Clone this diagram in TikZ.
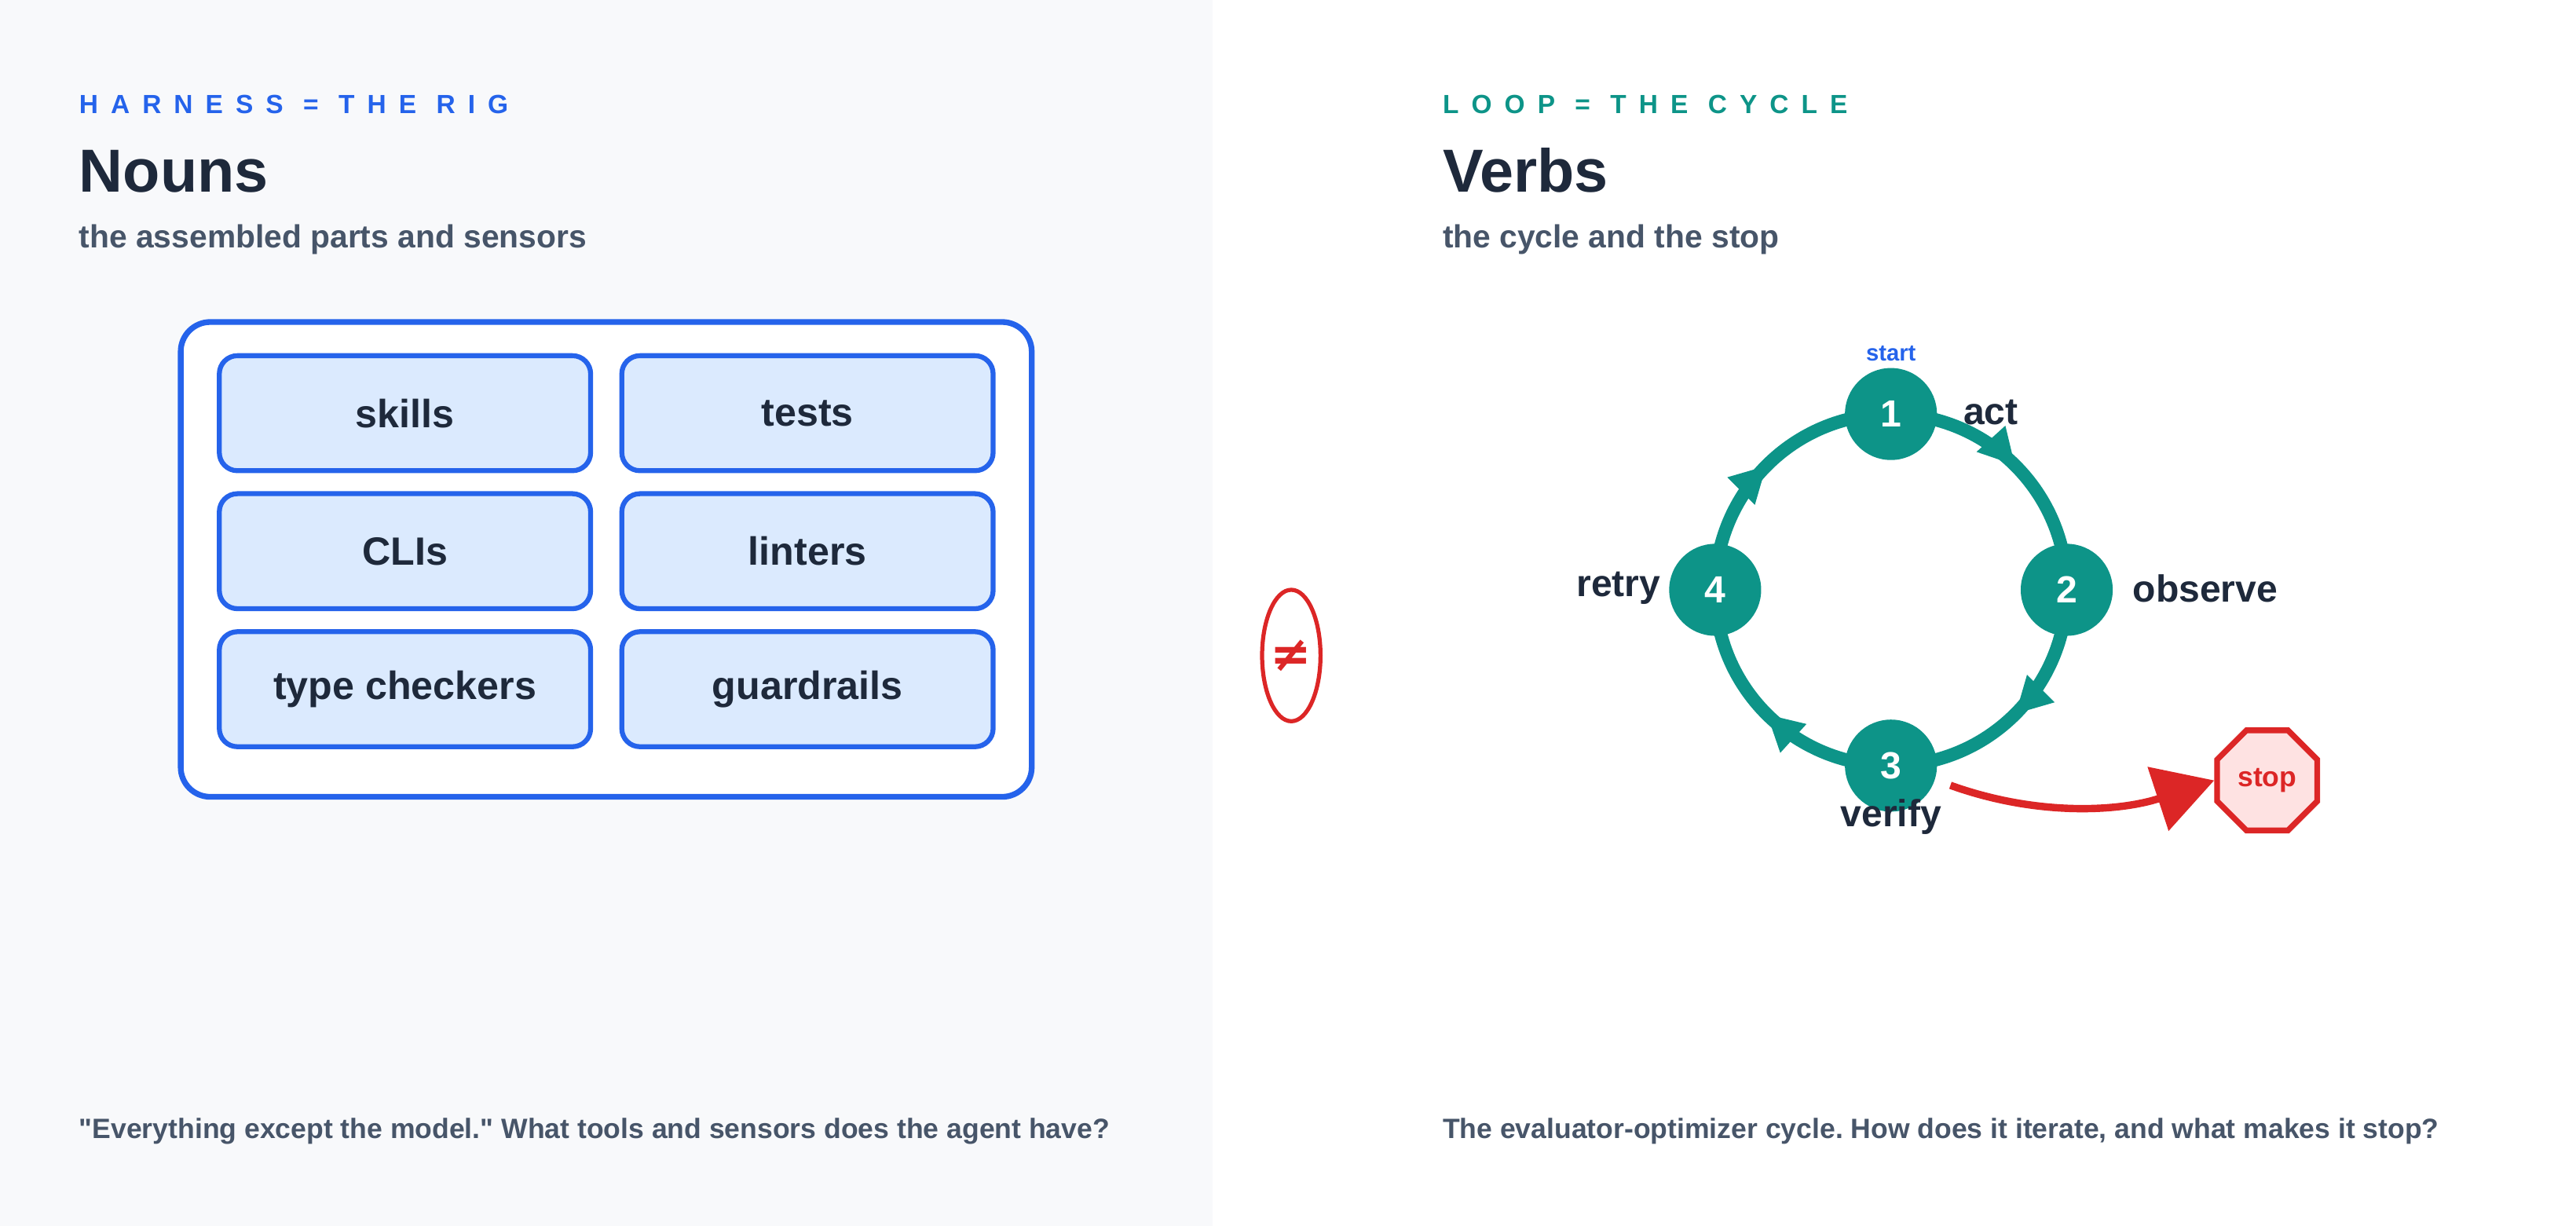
\documentclass[tikz,border=0pt]{standalone}
\usepackage{fontspec}
\setmainfont{Liberation Sans}
\newfontfamily\spaced[LetterSpace=48]{Liberation Sans}
\newfontfamily\symbols{DejaVu Sans}
\usepackage{tikz}
\usetikzlibrary{arrows.meta,shapes.geometric,decorations.markings}
\definecolor{ink}{HTML}{1E293B}
\definecolor{slate}{HTML}{475569}
\definecolor{rigblue}{HTML}{2563EB}
\definecolor{paleblue}{HTML}{DBEAFE}
\definecolor{teal}{HTML}{0D9488}
\definecolor{stopred}{HTML}{DC2626}
\definecolor{palered}{HTML}{FEE2E2}
\definecolor{panel}{HTML}{F8F9FB}
\frenchspacing

\begin{document}
\begin{tikzpicture}[x=1pt,y=-1pt,font=\bfseries,
                    every node/.style={inner sep=0pt}]
\tikzstyle{kicker}=[anchor=base west,font=\spaced\bfseries\fontsize{16}{16}\selectfont]
\tikzstyle{headline}=[anchor=base west,text=ink,font=\bfseries\fontsize{37}{37}\selectfont]
\tikzstyle{subline}=[anchor=base west,text=slate,font=\bfseries\fontsize{19.5}{19.5}\selectfont]
\tikzstyle{footline}=[anchor=base west,text=slate,font=\bfseries\fontsize{17}{17}\selectfont]
\tikzstyle{part}=[draw=rigblue,line width=3pt,fill=paleblue,rounded corners=11pt,
                  minimum width=226pt,minimum height=70pt,text=ink,
                  font=\bfseries\fontsize{24}{24}\selectfont]
\tikzstyle{stage}=[circle,fill=teal,minimum size=56pt,text=white,
                  font=\bfseries\fontsize{23}{23}\selectfont]
\tikzstyle{verb}=[text=ink,font=\bfseries\fontsize{23}{23}\selectfont]
\tikzstyle{flow}=[draw=teal,line width=8pt,postaction={decorate},
                  decoration={markings,mark=at position 0.5 with
                  {\arrow[teal]{Triangle[length=22pt,width=22pt]}}}]

\useasboundingbox (0,0) rectangle (1568,746);
\fill[panel] (0,0) rectangle (738,746);

% left panel
\node[kicker,text=rigblue] (kickL) at (48,69) {HARNESS = THE RIG};
\node[headline] (titleL) at (48,117) {Nouns};
\node[subline] (subL) at (48,151) {the assembled parts and sensors};
\node[draw=rigblue,line width=3.5pt,fill=white,rounded corners=18pt,
      minimum width=518pt,minimum height=289pt] (rig) at (369,340.5) {};
\node[part] (skills) at (246.5,251.5) {skills};
\node[part] (tests) at (491.5,251.5) {tests};
\node[part] (clis) at (246.5,335.5) {CLIs};
\node[part] (linters) at (491.5,335.5) {linters};
\node[part] (types) at (246.5,419.5) {type checkers};
\node[part] (guards) at (491.5,419.5) {guardrails};
\node[footline] (footL) at (48,693)
  {\textquotedbl Everything except the model.\textquotedbl\ What tools and sensors does the agent have?};

% not equal
\node[ellipse,draw=stopred,line width=2.5pt,minimum width=32pt,minimum height=80pt,
      text=stopred,font=\symbols\bfseries\fontsize{30}{30}\selectfont] (neq) at (786,399) {≠};

% right panel
\node[kicker,text=teal] (kickR) at (878,69) {LOOP = THE CYCLE};
\node[headline] (titleR) at (878,117) {Verbs};
\node[subline] (subR) at (878,151) {the cycle and the stop};

\coordinate (hub) at (1151,359);
\path[flow] (hub) ++(-90:107) arc[start angle=-90,end angle=0,radius=107];
\path[flow] (hub) ++(0:107) arc[start angle=0,end angle=90,radius=107];
\path[flow] (hub) ++(90:107) arc[start angle=90,end angle=180,radius=107];
\path[flow] (hub) ++(180:107) arc[start angle=180,end angle=270,radius=107];

\node[stage] (act) at (1151,252) {1};
\node[stage] (obs) at (1258,359) {2};
\node[stage] (ver) at (1151,466) {3};
\node[stage] (ret) at (1044,359) {4};

\node[text=rigblue,font=\bfseries\fontsize{14}{14}\selectfont] (start) at (1151,215) {start};
\node[verb,anchor=west] (actL) at (1195,251) {act};
\node[verb,anchor=west] (obsL) at (1298,358) {observe};
\node[verb,anchor=east] (retL) at (1011,358) {retry};
\node[verb] (verL) at (1151,497) {verify};

\node[regular polygon,regular polygon sides=8,draw=stopred,line width=3.5pt,
      fill=palered,minimum size=66pt,text=stopred,
      font=\bfseries\fontsize{17}{17}\selectfont] (stop) at (1380,475) {stop};
\coordinate (out) at ([shift={(8,12)}]ver.east);
\draw[stopred,line width=4.5pt,-{Triangle[length=36pt,width=40pt]}]
  (out) .. controls (1240,497) and (1290,494) .. (stop.west);
\node[footline] (footR) at (878,693)
  {The evaluator-optimizer cycle. How does it iterate, and what makes it stop?};
\end{tikzpicture}
\end{document}
